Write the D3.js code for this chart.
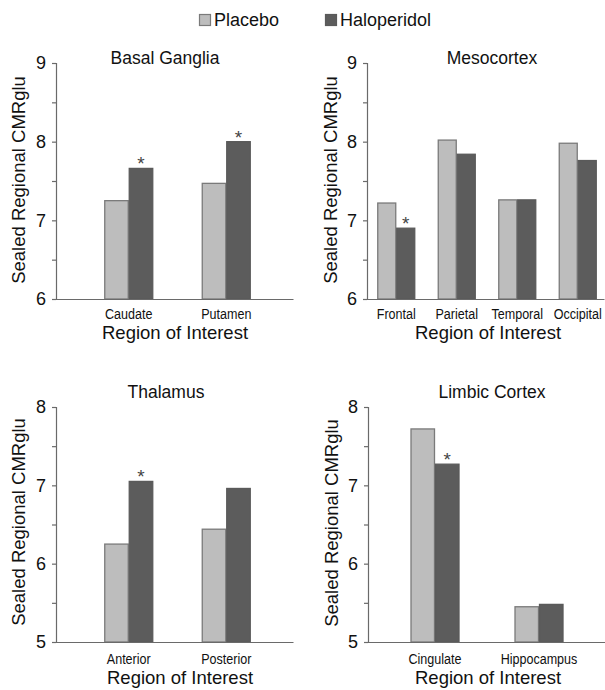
<!DOCTYPE html>
<html>
<head>
<meta charset="utf-8">
<script src="https://cdn.jsdelivr.net/npm/d3@7"></script>
<style>
  html, body { margin: 0; padding: 0; background: #fff; }
  svg { display: block; }
</style>
</head>
<body>
<svg id="chart" width="605" height="690"></svg>
<script>
// ---- Data ----
const seriesNames = ["Placebo", "Haloperidol"];

const basalTitle = "Basal Ganglia";
const basalCategories = ["Caudate", "Putamen"];
const basalPlacebo = [7.25, 7.47];
const basalHaloperidol = [7.66, 8.00];
const basalSignificant = [true, true];

const mesoTitle = "Mesocortex";
const mesoCategories = ["Frontal", "Parietal", "Temporal", "Occipital"];
const mesoPlacebo = [7.22, 8.02, 7.26, 7.98];
const mesoHaloperidol = [6.90, 7.84, 7.26, 7.76];
const mesoSignificant = [true, false, false, false];

const thalTitle = "Thalamus";
const thalCategories = ["Anterior", "Posterior"];
const thalPlacebo = [6.25, 6.44];
const thalHaloperidol = [7.05, 6.96];
const thalSignificant = [true, false];

const limbicTitle = "Limbic Cortex";
const limbicCategories = ["Cingulate", "Hippocampus"];
const limbicPlacebo = [7.72, 5.45];
const limbicHaloperidol = [7.27, 5.48];
const limbicSignificant = [true, false];

const topTickValues = [6, 6.5, 7, 7.5, 8, 8.5, 9];
const bottomTickValues = [5, 5.5, 6, 6.5, 7, 7.5, 8];

const yAxisTitle = "Sealed Regional CMRglu";
const xAxisTitle = "Region of Interest";

// ---- Style ----
const fillColors = ["#bdbdbd", "#5c5c5c"];
const strokeColors = ["#7a7a7a", "#5a5a5a"];
const axisColor = "#6a6a6a";
const sansFont = "Arial, 'Liberation Sans', Helvetica, sans-serif";
const narrowScale = 0.81;

const svg = d3.select("#chart");

// ---- Panel layouts ----
const panels = [
  { title: basalTitle, cats: basalCategories, pl: basalPlacebo, ha: basalHaloperidol, sig: basalSignificant,
    ticks: topTickValues, axisX: 56, axisEnd: 293, yTop: 63, yBot: 299, catRange: [80, 275], barW: 24.5,
    titleX: 165, titleY: 64, yTitleX: 25, yTitleY: 180, xTitleX: 175, xTitleY: 339, catY: 319 },
  { title: mesoTitle, cats: mesoCategories, pl: mesoPlacebo, ha: mesoHaloperidol, sig: mesoSignificant,
    ticks: topTickValues, axisX: 367, axisEnd: 604, yTop: 63, yBot: 299, catRange: [366, 608], barW: 19,
    titleX: 492, titleY: 64, yTitleX: 337, yTitleY: 180, xTitleX: 488, xTitleY: 339, catY: 319 },
  { title: thalTitle, cats: thalCategories, pl: thalPlacebo, ha: thalHaloperidol, sig: thalSignificant,
    ticks: bottomTickValues, axisX: 56, axisEnd: 293, yTop: 407, yBot: 642, catRange: [80, 275], barW: 24.5,
    titleX: 166, titleY: 398, yTitleX: 25, yTitleY: 522, xTitleX: 180, xTitleY: 684, catY: 664 },
  { title: limbicTitle, cats: limbicCategories, pl: limbicPlacebo, ha: limbicHaloperidol, sig: limbicSignificant,
    ticks: bottomTickValues, axisX: 368, axisEnd: 605, yTop: 407, yBot: 642, catRange: [383, 591], barW: 24.5,
    titleX: 492, titleY: 398, yTitleX: 338, yTitleY: 523, xTitleX: 488, xTitleY: 684, catY: 664 }
];

panels.forEach(p => {
  const g = svg.append("g");
  const ext = d3.extent(p.ticks);
  const y = d3.scaleLinear().domain(ext).range([p.yBot, p.yTop]);
  const x = d3.scalePoint().domain(p.cats).range(p.catRange).padding(0.5);
  const xs = d3.scaleBand().domain(seriesNames).range([-p.barW, p.barW]).padding(0);

  // bars
  const rows = p.cats.map((c, i) => ({ cat: c, vals: [p.pl[i], p.ha[i]], sig: p.sig[i] }));
  const grp = g.selectAll("g.cat").data(rows).join("g")
    .attr("transform", d => `translate(${x(d.cat)},0)`);
  grp.selectAll("rect").data(d => d.vals.map((v, k) => ({ v, k }))).join("rect")
    .attr("x", d => xs(seriesNames[d.k]) + 0.5)
    .attr("width", xs.bandwidth() - 1)
    .attr("y", d => y(d.v))
    .attr("height", d => y(ext[0]) - y(d.v))
    .attr("fill", d => fillColors[d.k])
    .attr("stroke", d => strokeColors[d.k])
    .attr("stroke-width", 1.3);
  grp.filter(d => d.sig).append("text")
    .attr("x", xs(seriesNames[1]) + xs.bandwidth() / 2)
    .attr("y", d => y(d.vals[1]) + 2)
    .attr("text-anchor", "middle")
    .attr("font-family", sansFont)
    .attr("font-size", 19)
    .attr("fill", "#444")
    .text("*");

  // y axis
  const ax = g.append("g").attr("transform", `translate(${p.axisX},0)`)
    .call(d3.axisLeft(y).tickValues(p.ticks).tickSize(4).tickPadding(6)
      .tickFormat(v => Number.isInteger(v) ? d3.format("d")(v) : ""));
  ax.select(".domain").attr("stroke", axisColor).attr("stroke-width", 1.2);
  ax.selectAll(".tick line").attr("stroke", axisColor).attr("stroke-width", 1.2);
  ax.selectAll(".tick text").attr("font-family", sansFont).attr("font-size", 18).attr("fill", "#111");

  // x axis line
  const xa = g.append("g").attr("transform", `translate(0,${p.yBot})`)
    .call(d3.axisBottom(d3.scaleLinear().domain([0, 1]).range([p.axisX, p.axisEnd])).ticks(0).tickSizeOuter(0));
  xa.select(".domain").attr("stroke", axisColor).attr("stroke-width", 1.2);

  // category labels (condensed)
  g.selectAll("text.cat").data(p.cats).join("text")
    .attr("class", "cat")
    .attr("transform", d => `translate(${x(d)},${p.catY}) scale(${narrowScale},1)`)
    .attr("text-anchor", "middle")
    .attr("font-family", sansFont)
    .attr("font-size", 15.5)
    .attr("fill", "#111")
    .text(d => d);

  // titles
  g.append("text").attr("x", p.titleX).attr("y", p.titleY).attr("text-anchor", "middle")
    .attr("font-family", sansFont).attr("font-size", 17.5).attr("fill", "#111").text(p.title);
  g.append("text").attr("x", p.xTitleX).attr("y", p.xTitleY).attr("text-anchor", "middle")
    .attr("font-family", sansFont).attr("font-size", 18.5).attr("fill", "#111").text(xAxisTitle);
  g.append("text").attr("transform", `translate(${p.yTitleX},${p.yTitleY}) rotate(-90)`)
    .attr("text-anchor", "middle")
    .attr("font-family", sansFont).attr("font-size", 18.5).attr("fill", "#111").text(yAxisTitle);
});

// ---- Legend ----
const legendX = [199, 325];
const leg = svg.append("g").selectAll("g").data(seriesNames).join("g")
  .attr("transform", (d, i) => `translate(${legendX[i]},14)`);
leg.append("rect").attr("x", 0.5).attr("y", 0.5).attr("width", 11).attr("height", 11)
  .attr("fill", (d, i) => fillColors[i]).attr("stroke", (d, i) => strokeColors[i]).attr("stroke-width", 1.2);
leg.append("text").attr("x", 15).attr("y", 12).attr("font-family", sansFont).attr("font-size", 18)
  .attr("fill", "#111").text(d => d);
</script>
</body>
</html>
